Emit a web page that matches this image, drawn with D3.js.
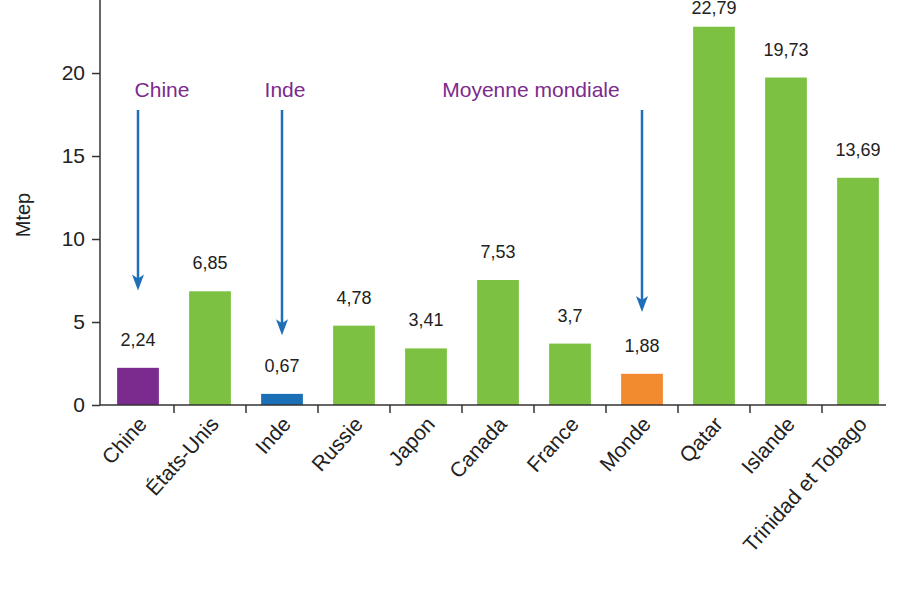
<!DOCTYPE html><html><head><meta charset="utf-8"><script src="https://cdn.jsdelivr.net/npm/d3@7"></script>
<style>body{margin:0;background:#fff}text{font-family:"Liberation Sans",Arial,sans-serif}</style></head><body><svg id="c" width="900" height="600"></svg>
<script>
const categories=["Chine","États-Unis","Inde","Russie","Japon","Canada","France","Monde","Qatar","Islande","Trinidad et Tobago"];
const values=[2.24,6.85,0.67,4.78,3.41,7.53,3.7,1.88,22.79,19.73,13.69];
const labels=["2,24","6,85","0,67","4,78","3,41","7,53","3,7","1,88","22,79","19,73","13,69"];
const colors=["#7b2a8e","#7dc142","#1a6fb6","#7dc142","#7dc142","#7dc142","#7dc142","#f28a30","#7dc142","#7dc142","#7dc142"];
const yTicks=[0,5,10,15,20];
const notes=[{text:"Chine",cat:"Chine",tx:162,ty:97,y1:110,val:6.9},{text:"Inde",cat:"Inde",tx:285,ty:97,y1:110,val:4.2},{text:"Moyenne mondiale",cat:"Monde",tx:531,ty:97,y1:110,val:5.6}];
const svg=d3.select("#c");
const x=d3.scaleBand().domain(categories).range([102,894]).paddingInner(0.42).paddingOuter(0.21);
const y=d3.scaleLinear().domain([0,24.4]).range([405,0]);
svg.selectAll(".bar").data(categories).join("rect").attr("x",d=>x(d)).attr("width",x.bandwidth())
 .attr("y",(d,i)=>y(values[i])).attr("height",(d,i)=>y(0)-y(values[i])).attr("fill",(d,i)=>colors[i]);
svg.selectAll(".vl").data(categories).join("text").attr("x",d=>x(d)+x.bandwidth()/2).attr("y",(d,i)=>Math.max(14,y(values[i])-22))
 .attr("text-anchor","middle").attr("font-size",18).attr("fill","#222").text((d,i)=>labels[i]);
const ya=svg.append("g").attr("transform","translate(100,0)").call(d3.axisLeft(y).tickValues(yTicks).tickSize(8).tickSizeOuter(0));
ya.selectAll("text").attr("font-size",21).attr("fill","#222").attr("dx",-4);
ya.selectAll("line,path").attr("stroke","#333").attr("stroke-width",1.5);
ya.select("path").attr("d","M0,405V0");
const xa=svg.append("g").attr("transform","translate(0,405)");
xa.append("line").attr("x1",100).attr("x2",886).attr("stroke","#333").attr("stroke-width",1.5);
const step=x.step();
xa.selectAll(".t").data(categories.slice(1)).join("line").attr("x1",d=>x(d)-(step-x.bandwidth())/2).attr("x2",d=>x(d)-(step-x.bandwidth())/2).attr("y2",8).attr("stroke","#333").attr("stroke-width",1.5);
xa.selectAll(".xl").data(categories).join("text").attr("text-anchor","end").attr("font-size",21).attr("fill","#222")
 .attr("transform",d=>`translate(${x(d)+x.bandwidth()/2+10},20) rotate(-48)`).text(d=>d);
svg.append("text").attr("transform","translate(30,215) rotate(-90)").attr("text-anchor","middle").attr("font-size",20).attr("fill","#222").text("Mtep");
notes.forEach(n=>{
 const cx=x(n.cat)+x.bandwidth()/2, ye=y(n.val);
 svg.append("text").attr("x",n.tx).attr("y",n.ty).attr("text-anchor","middle").attr("font-size",21).attr("fill","#7b2a8e").text(n.text);
 svg.append("line").attr("x1",cx).attr("x2",cx).attr("y1",n.y1).attr("y2",ye-10).attr("stroke","#1f6fb8").attr("stroke-width",2.5);
 svg.append("path").attr("d",`M${cx-6},${ye-16}L${cx},${ye}L${cx+6},${ye-16}L${cx},${ye-12}Z`).attr("fill","#1f6fb8");
});
</script></body></html>
